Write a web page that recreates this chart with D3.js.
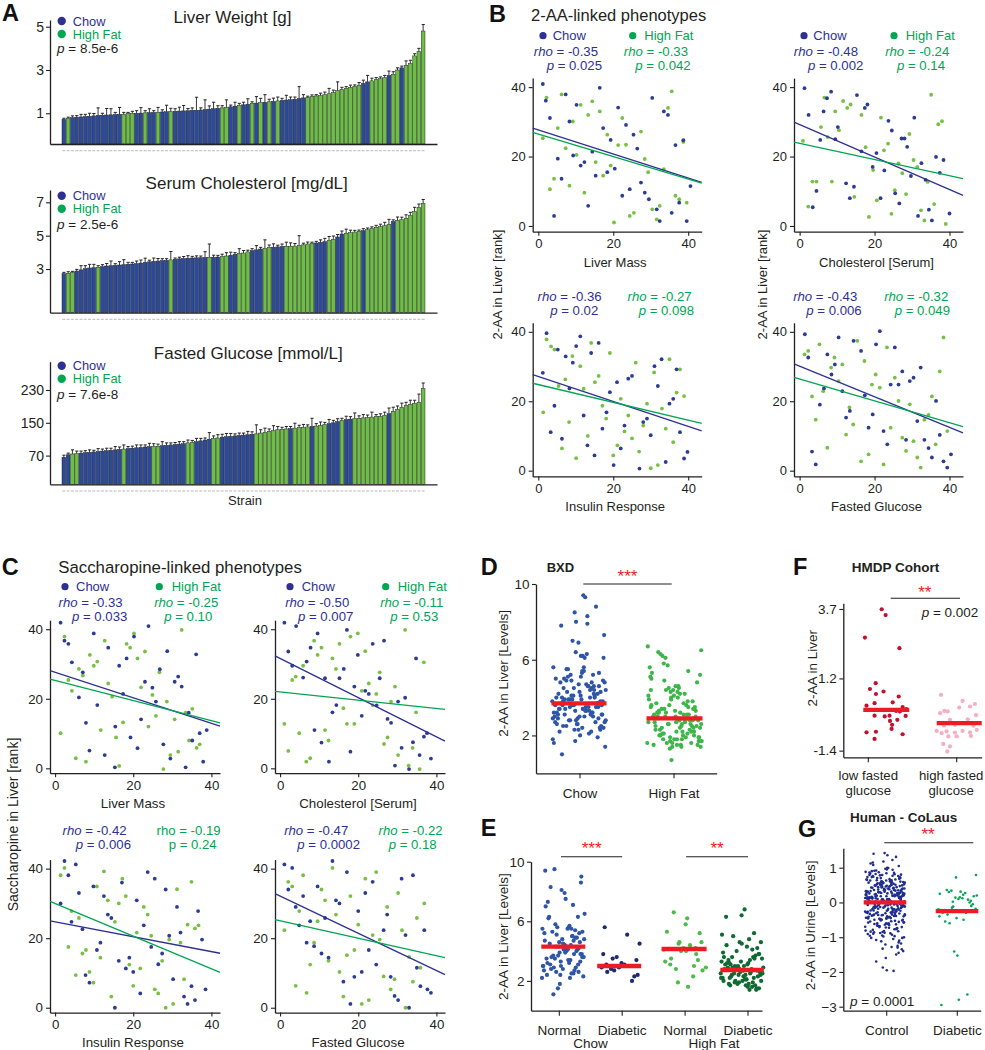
<!DOCTYPE html>
<html><head><meta charset="utf-8">
<script src="https://cdn.jsdelivr.net/npm/d3@7"></script>
<style>
body{margin:0;background:#fff;}
svg text{font-family:"Liberation Sans",Arial,Helvetica,sans-serif;}
</style></head><body>
<svg id="fig" width="985" height="1050"></svg>
<script>
// ================= DATA =================
// ---- Panel A: strain bar charts (85 strains each) ----
const liverWeight = [0.72,0.76,0.80,0.82,0.83,0.85,0.86,0.88,0.90,0.91,0.92,0.93,0.94,0.95,0.96,0.98,0.99,1.00,1.01,1.02,
1.03,1.04,1.05,1.06,1.07,1.08,1.09,1.10,1.11,1.12,1.13,1.14,1.15,1.17,1.19,1.21,1.23,1.25,1.27,1.30,
1.33,1.36,1.39,1.42,1.45,1.47,1.49,1.51,1.53,1.55,1.57,1.59,1.61,1.63,1.65,1.68,1.71,1.74,1.77,1.80,
1.83,1.86,1.90,1.95,2.05,2.10,2.15,2.20,2.25,2.30,2.38,2.45,2.50,2.55,2.60,2.65,2.75,2.80,3.00,3.10,
3.20,3.30,3.65,3.85,4.80];
const liverErr = [0.05,0.06,0.08,0.07,0.12,0.10,0.14,0.11,0.35,0.09,0.30,0.28,0.10,0.32,0.08,0.06,0.10,0.12,0.25,0.10,
0.18,0.08,0.22,0.10,0.30,0.15,0.12,0.18,0.25,0.10,0.12,0.60,0.10,0.45,0.15,0.30,0.12,0.10,0.35,0.08,
0.18,0.10,0.12,0.25,0.08,0.30,0.20,0.35,0.12,0.15,0.18,0.10,0.22,0.12,0.10,0.55,0.15,0.05,0.08,0.06,
0.10,0.12,0.25,0.12,0.40,0.10,0.08,0.10,0.06,0.12,0.15,0.30,0.12,0.10,0.08,0.10,0.20,0.12,0.10,0.08,
0.22,0.15,0.10,0.15,0.30];
const liverDiet = ["CHCCCCCCCCCCCCHHHCCH","CCHCCH","CCCCCCCCCCC","HHCCHCCHCHCHCH","CCC","CCC","HHHHHHHHHHHHH","CC","HHHH","C","HH","C","HHHHH"].join("");

const cholesterol = [2.72,2.74,2.80,2.88,2.95,3.02,3.06,3.08,3.10,3.14,3.18,3.20,3.22,3.24,3.26,3.28,3.30,3.33,3.36,3.40,
3.43,3.46,3.48,3.50,3.52,3.55,3.58,3.61,3.63,3.65,3.66,3.67,3.68,3.69,3.70,3.71,3.72,3.74,3.78,3.83,
3.88,3.92,3.96,4.03,4.10,4.15,4.20,4.25,4.29,4.31,4.33,4.35,4.36,4.37,4.38,4.40,4.45,4.50,4.53,4.56,
4.60,4.64,4.70,4.78,4.92,5.10,5.14,5.18,5.22,5.26,5.30,5.36,5.45,5.50,5.54,5.60,5.68,5.85,5.92,5.96,
6.05,6.20,6.45,6.70,6.92];
const cholErr = [0.08,0.10,0.06,0.10,0.25,0.18,0.22,0.20,0.10,0.12,0.15,0.28,0.10,0.20,0.30,0.12,0.10,0.15,0.18,0.25,
0.10,0.20,0.15,0.12,0.10,0.50,0.08,0.10,0.12,0.15,0.10,0.12,0.10,0.35,0.80,0.12,0.10,0.15,0.20,0.18,
0.10,0.30,0.15,0.10,0.12,0.25,0.10,0.50,0.15,0.20,0.10,0.15,0.25,0.20,0.15,0.60,0.10,0.12,0.08,0.10,
0.15,0.20,0.25,0.20,0.15,0.18,0.25,0.15,0.10,0.08,0.12,0.10,0.08,0.12,0.15,0.20,0.30,0.10,0.20,0.15,
0.20,0.20,0.25,0.20,0.25];
const cholDiet = ["C","HH","CCCCC","H","CCCCCCCCCCCCCCCC","H","CCCCCCCC","H","CC","HH","CC","HHH","CCC","HH","CCC","HHHHHHH","CCC","HH","CC","HHHH","C","HHHHHH","C","HHHHHHH"].join("");

const glucose = [66,72,74,75,76,77,78,79,80,81,82,83,84,85,86,87,88,89,90,91,
92,93,93,94,95,96,97,98,99,101,102,104,106,108,110,112,113,115,116,117,
118,119,120,121,122,123,125,127,129,131,133,134,135,136,137,138,139,140,141,142,
144,146,148,150,153,156,158,159,160,161,162,163,164,165,166,168,172,178,183,188,
192,195,197,200,233];
const glucErr = [5,4,10,6,5,5,6,4,7,5,6,5,8,6,10,5,5,7,6,5,8,6,5,10,6,5,5,6,5,7,
5,8,6,5,16,6,8,7,8,7,5,6,5,8,6,22,8,10,6,12,8,5,6,5,12,6,7,5,20,6,
8,5,10,6,7,5,8,6,14,6,8,6,12,5,6,8,14,10,8,10,8,10,8,20,14];
const glucDiet = ["CC","HH","CCCCCCCCCC","H","CCCCCC","HH","CCCCCC","HH","CCCC","HH","CCCCCCCC","HHHHHHHH","C","HHHH","C","HHH","CCC","H","CC","HHHHHHHH","C","HHHHHHHH"].join("");

const barTitles = ["Liver Weight [g]","Serum Cholesterol [mg/dL]","Fasted Glucose [mmol/L]"];
const barP = ["8.5e-6","2.5e-6","7.6e-8"];
const barTicks = [[1,3,5],[3,5,7],[70,150,230]];

// ---- Panel B: 2-AA-linked phenotypes (rank vs rank) ----
const bLiverChow = [[1.2,40.9],[2.0,36.1],[3.1,31.1],[4.2,2.9],[5.2,19.4],[6.2,13.6],[7.3,37.9],[8.3,30.1],[9.3,20.3],[10.2,34.9],[11.3,17.4],[12.3,18.4],[13.3,5.8],[14.4,21.4],[15.3,14.5],[16.4,39.8],[17.3,28.2],[18.4,15.5],[19.3,24.8],[20.4,16.5],[21.3,34.1],[22.4,8.7],[23.4,29.1],[24.4,10.6],[25.4,26.3],[26.4,22.3],[27.4,12.5],[28.4,9.6],[29.5,7.7],[30.4,36.9],[31.6,4.8],[32.4,1.4],[33.5,33.0],[34.6,32.0],[35.6,3.8],[36.6,23.3],[37.6,6.7],[38.7,24.7],[39.6,1.4],[40.6,11.5]];
const bLiverHF = [[1.2,25.3],[2.2,37.0],[3.1,10.6],[4.2,13.6],[5.2,28.2],[6.2,37.9],[7.3,22.4],[8.3,11.6],[9.2,30.1],[10.2,20.5],[11.3,34.9],[12.3,9.6],[13.3,32.0],[14.4,35.9],[15.3,18.4],[16.4,33.0],[17.3,14.5],[18.4,26.3],[19.3,17.4],[20.2,1.0],[21.3,23.3],[22.4,31.1],[23.4,23.4],[24.4,2.9],[25.5,3.8],[27.4,27.2],[28.4,19.3],[29.3,15.5],[30.4,4.8],[31.6,1.9],[32.4,5.8],[33.5,16.4],[34.6,34.0],[35.6,38.8],[36.6,8.7],[37.6,7.7],[38.7,24.2],[39.6,6.7]];
const bCholChow = [[1.3,39.7],[2.4,32.0],[3.5,5.4],[4.5,10.1],[5.5,24.8],[6.4,33.0],[7.3,36.8],[8.4,38.7],[9.5,25.0],[10.2,28.5],[12.4,12.3],[13.4,8.0],[14.5,11.3],[15.3,37.7],[16.5,21.5],[17.4,34.0],[18.1,35.0],[19.5,17.0],[20.5,21.0],[21.6,8.0],[22.6,16.0],[23.7,30.3],[24.6,27.5],[25.5,9.4],[26.6,6.5],[27.2,25.2],[28.0,25.2],[28.7,22.8],[29.7,14.4],[30.6,31.2],[31.6,2.9],[32.5,18.1],[33.6,13.3],[34.5,4.7],[35.3,1.6],[36.4,19.9],[37.4,15.3],[38.4,19.0],[40.0,3.6]];
const bCholHF = [[0.9,24.5],[2.3,5.6],[3.4,12.8],[4.5,12.8],[5.7,28.5],[6.6,37.0],[7.5,25.6],[8.6,12.8],[9.5,33.0],[10.5,27.6],[11.6,36.0],[12.7,34.0],[13.6,35.0],[14.6,8.4],[16.5,32.0],[17.6,22.7],[18.5,2.6],[19.6,16.1],[20.6,7.4],[21.7,31.2],[22.5,21.8],[23.6,23.7],[24.5,3.5],[25.4,10.3],[26.4,18.0],[27.4,15.2],[28.4,9.2],[29.3,26.5],[30.4,19.0],[31.4,17.0],[32.4,4.5],[33.3,1.6],[34.2,12.7],[35.1,37.8],[35.9,6.3],[37.0,29.3],[38.0,30.2],[39.0,0.6]];
const bInsChow = [[1.2,28.2],[2.2,39.6],[3.3,11.1],[4.3,18.7],[5.2,34.9],[6.3,9.2],[7.3,32.9],[8.3,23.7],[9.2,31.1],[10.1,35.9],[11.2,38.7],[12.1,15.9],[13.1,7.3],[14.1,33.9],[15.0,4.4],[16.1,36.8],[17.1,12.1],[18.2,16.8],[19.1,22.6],[20.1,1.6],[21.0,25.5],[22.0,6.4],[23.0,13.0],[24.0,26.5],[25.0,27.3],[27.0,0.6],[28.0,14.0],[29.0,15.0],[30.0,10.2],[31.0,30.1],[31.9,24.4],[32.9,32.1],[34.0,2.5],[35.0,19.3],[36.0,20.7],[36.9,29.2],[37.8,11.1],[38.9,3.5],[39.8,5.4]];
const bInsHF = [[1.3,16.8],[2.2,37.8],[3.4,35.8],[4.3,34.9],[5.4,24.4],[6.3,6.4],[7.2,26.3],[8.2,14.0],[9.1,33.0],[10.1,3.6],[11.2,30.1],[12.1,23.6],[13.2,10.0],[14.1,36.8],[15.1,25.5],[16.1,27.3],[17.1,18.7],[18.1,15.0],[19.1,33.9],[20.0,4.4],[21.1,7.3],[22.0,20.7],[23.0,11.3],[24.0,15.9],[25.0,9.3],[26.0,31.1],[26.9,5.5],[28.0,13.0],[29.0,19.3],[30.0,0.7],[30.9,28.3],[31.9,1.6],[33.0,17.9],[34.0,12.1],[35.0,32.1],[36.0,8.2],[36.9,22.5],[37.8,29.2],[38.9,21.5]];
const bGluChow = [[1.4,39.3],[2.3,32.6],[3.3,5.5],[4.3,1.8],[5.4,19.0],[6.5,23.7],[7.4,33.5],[8.5,27.7],[9.4,30.6],[10.4,38.4],[11.4,22.9],[12.4,15.3],[13.4,17.2],[14.4,37.4],[16.4,34.5],[17.4,21.7],[18.4,12.4],[19.5,16.2],[20.4,36.4],[21.4,40.2],[22.4,11.4],[23.4,7.6],[24.3,24.8],[25.4,35.5],[26.4,24.8],[27.4,28.6],[28.4,8.9],[29.4,25.8],[30.4,26.8],[31.4,14.3],[32.3,29.7],[33.3,8.9],[34.4,6.5],[35.3,3.8],[36.4,20.1],[37.4,10.3],[38.4,2.7],[39.4,0.9],[40.4,4.7]];
const bGluHF = [[1.3,33.5],[2.3,34.5],[3.3,21.4],[4.3,14.7],[5.3,36.4],[6.3,22.9],[7.4,6.6],[8.4,29.7],[9.3,32.6],[10.4,25.8],[11.4,30.6],[12.4,10.4],[13.3,18.2],[14.3,13.3],[15.4,37.4],[16.4,2.7],[17.3,31.6],[18.4,4.7],[19.3,24.8],[20.3,27.7],[21.4,23.9],[22.4,1.8],[23.3,35.5],[24.3,12.4],[25.4,26.8],[26.4,20.1],[27.4,9.5],[28.4,5.7],[29.4,19.1],[30.4,8.5],[31.4,3.8],[32.3,0.9],[33.3,14.7],[34.4,16.1],[35.3,21.4],[36.3,7.6],[37.4,28.6],[38.4,38.4],[39.4,11.4]];
const bXLabels = ["Liver Mass","Cholesterol [Serum]","Insulin Response","Fasted Glucose"];
const bFitChow = [[27.7,-0.348],[29.2,-0.467],[27.1,-0.359],[30.1,-0.44]];   // [intercept, slope]
const bFitHF = [[26.5,-0.324],[23.8,-0.233],[24.8,-0.257],[26.4,-0.314]];
const bRhoChow = ["-0.35","-0.48","-0.36","-0.43"], bPChow = ["0.025","0.002","0.02","0.006"];
const bRhoHF = ["-0.33","-0.24","-0.27","-0.32"], bPHF = ["0.042","0.14","0.098","0.049"];

// ---- Panel C: Saccharopine-linked phenotypes ----
const cLiverChow = [[1.4,41.9],[2.4,36.7],[3.4,35.8],[4.3,30.5],[6.1,20.4],[7.1,27.6],[7.9,13.1],[8.8,5.1],[9.9,38.8],[10.8,18.2],[12.7,3.8],[13.6,34.7],[15.3,0.3],[15.4,12.0],[16.4,29.5],[17.4,21.4],[18.3,31.6],[19.3,8.9],[20.2,37.9],[21.1,5.8],[22.0,14.1],[23.0,24.9],[23.9,40.9],[24.9,23.2],[25.8,19.2],[26.8,28.5],[27.7,6.9],[28.7,33.7],[29.5,2.8],[30.6,24.9],[31.5,26.4],[32.4,23.5],[33.4,0.3],[34.2,16.0],[35.1,8.0],[36.1,32.8],[37.0,10.1],[37.9,1.9],[38.8,11.0]];
const cLiverHF = [[1.4,10.1],[2.4,37.9],[3.4,25.4],[4.3,22.3],[5.3,2.9],[6.1,28.6],[7.1,26.7],[7.9,1.9],[8.9,32.6],[9.9,29.5],[10.8,30.7],[11.7,11.0],[12.7,36.7],[13.6,24.4],[14.6,20.6],[15.6,8.9],[16.4,0.7],[17.4,13.2],[18.3,35.8],[19.2,34.7],[20.2,38.8],[21.1,31.6],[22.0,23.3],[23.0,33.6],[23.9,12.0],[24.9,21.1],[25.8,15.1],[26.7,27.6],[27.7,-0.2],[28.6,19.2],[29.5,3.8],[30.6,14.1],[31.5,4.8],[32.4,39.8],[33.4,16.0],[34.3,8.0],[35.1,17.1],[36.2,5.9],[37.0,6.9]];
const cCholChow = [[1.1,41.9],[2.1,33.6],[3.1,29.5],[4.1,40.9],[5.9,26.1],[6.8,30.7],[7.8,34.7],[8.8,11.0],[9.6,38.8],[10.6,7.4],[11.5,25.9],[12.5,1.9],[13.4,16.1],[14.4,18.2],[15.2,25.9],[16.3,28.6],[17.1,39.8],[18.0,4.8],[19.0,23.5],[19.9,32.6],[20.9,15.1],[21.8,22.3],[22.7,21.4],[23.7,35.8],[24.7,18.1],[25.5,25.9],[26.6,36.7],[27.5,14.2],[28.4,13.1],[29.4,0.8],[30.2,19.2],[31.1,5.9],[32.0,20.3],[33.0,-0.2],[34.0,7.5],[34.8,31.6],[35.7,3.8],[36.8,9.1],[37.6,10.1],[38.6,2.8]];
const cCholHF = [[1.1,12.8],[2.1,5.0],[3.1,25.4],[4.0,26.4],[4.9,10.1],[5.9,29.5],[6.7,1.9],[7.7,2.9],[8.7,36.7],[9.6,32.6],[10.6,34.7],[11.5,11.0],[12.4,8.0],[13.4,31.6],[14.3,28.6],[15.2,35.8],[16.2,17.3],[17.1,12.8],[18.0,37.9],[19.0,12.8],[19.9,38.8],[20.9,22.3],[21.8,33.7],[22.7,24.4],[23.7,18.2],[24.6,21.4],[25.5,27.6],[26.6,7.0],[27.5,8.9],[28.4,19.2],[29.4,23.5],[30.2,3.8],[32.0,39.8],[32.9,0.8],[33.9,5.9],[34.8,16.1],[35.7,-0.2],[36.8,30.5]];
const cInsChow = [[1.4,30.0],[2.4,42.2],[3.4,38.1],[4.2,24.7],[5.3,41.2],[6.1,33.0],[7.0,22.6],[7.8,9.4],[8.8,7.2],[9.8,34.9],[10.7,16.6],[11.6,18.7],[12.5,32.1],[13.5,26.8],[14.4,25.8],[15.3,0.0],[16.3,13.5],[17.1,36.0],[18.1,11.3],[19.0,14.4],[20.0,10.3],[20.9,30.9],[21.8,4.1],[22.7,23.7],[23.7,39.0],[24.6,17.5],[25.5,37.1],[26.4,12.5],[27.4,15.6],[28.3,34.0],[29.2,20.7],[30.2,8.2],[31.2,29.0],[32.1,21.6],[33.0,3.2],[33.9,1.1],[34.9,6.2],[35.8,2.2],[36.6,27.8],[37.6,19.6],[38.5,5.3]];
const cInsHF = [[1.4,38.1],[2.4,40.2],[3.4,17.5],[4.2,27.8],[5.3,9.4],[6.1,25.8],[7.0,15.6],[7.9,16.6],[8.8,10.3],[9.8,7.2],[10.7,34.9],[11.6,14.4],[12.5,39.2],[13.5,30.9],[14.4,3.2],[15.3,24.7],[16.3,30.0],[17.2,37.1],[18.1,32.1],[19.0,12.4],[20.0,6.3],[20.9,21.6],[21.8,11.3],[22.7,29.0],[23.7,26.8],[24.6,20.7],[25.5,5.3],[26.4,4.1],[27.4,13.5],[28.3,0.0],[29.2,19.6],[30.2,1.1],[31.2,34.1],[32.1,18.7],[33.0,8.2],[33.9,23.9],[34.9,36.2],[35.8,22.8],[36.7,23.7]];
const cGluChow = [[1.1,41.2],[2.1,34.0],[3.1,40.2],[4.0,29.0],[4.9,23.7],[5.9,32.1],[6.8,18.7],[7.7,24.9],[8.7,17.7],[9.6,34.9],[10.6,15.6],[11.5,25.8],[12.4,14.4],[13.4,42.2],[14.3,30.9],[15.2,30.0],[16.2,7.5],[17.1,39.0],[18.0,1.1],[19.0,8.9],[20.0,27.8],[20.9,10.3],[21.8,33.0],[22.7,16.6],[23.7,36.2],[24.6,12.4],[26.5,22.3],[27.4,26.8],[28.3,8.9],[29.3,3.4],[30.2,2.2],[31.1,37.1],[32.1,20.9],[33.0,0.0],[34.0,38.1],[35.0,11.5],[35.9,6.2],[36.9,22.3],[37.7,5.3],[38.6,4.3]];
const cGluHF = [[1.1,22.3],[2.1,36.2],[3.1,34.9],[4.0,6.3],[4.9,27.8],[5.9,38.1],[6.8,4.3],[7.7,12.4],[8.7,18.7],[9.6,24.9],[10.6,34.0],[11.5,30.9],[12.4,13.5],[13.4,40.2],[14.3,26.8],[15.2,10.3],[16.2,3.2],[17.1,15.1],[18.0,32.1],[19.0,16.6],[20.0,23.9],[20.9,1.1],[21.8,37.1],[22.7,2.2],[23.7,20.9],[24.6,39.0],[25.5,19.6],[26.5,9.0],[27.4,29.0],[28.3,5.3],[29.3,8.2],[30.2,33.0],[31.2,22.3],[32.1,0.0],[33.0,14.6],[34.0,7.5],[35.0,25.8],[35.9,11.5],[36.9,30.0]];
const cXLabels = ["Liver Mass","Cholesterol [Serum]","Insulin Response","Fasted Glucose"];
const cFitChow = [[27.6,-0.367],[31.6,-0.563],[24.7,-0.214],[32.1,-0.535]];
const cFitHF = [[25.3,-0.29],[22.0,-0.119],[30.0,-0.47],[25.0,-0.251]];
const cRhoChow = ["-0.33","-0.50","-0.42","-0.47"], cPChow = ["0.033","0.007","0.006","0.0002"];
const cRhoHF = ["-0.25","-0.11","-0.19","-0.22"], cPHF = ["0.10","0.53","0.24","0.18"];

// ---- shared horizontal jitter (fraction of half-width) for strip plots ----
const J = [-0.82,0.35,-0.11,0.74,-0.53,0.12,0.91,-0.34,0.58,-0.97,0.23,-0.66,0.47,-0.05,0.86,-0.41,0.02,0.69,-0.88,0.31,
-0.19,0.95,-0.72,0.14,0.52,-0.28,0.79,-0.59,0.07,-0.93,0.41,-0.14,0.63,-0.47,0.99,-0.25,0.18,-0.78,0.55,-0.02,
0.84,-0.63,0.27,-0.37,0.71,-0.86,0.09,0.45,-0.21,0.93,-0.51,0.33,-0.08,0.66,-0.95,0.2,-0.44,0.77,-0.16,0.5,
-0.69,0.04,0.88,-0.31,0.38,-0.84,0.61,-0.12,0.25,-0.57,0.97,-0.39,0.11,0.72,-0.76,0.43,-0.24,0.82,-0.01,-0.61,
0.29,-0.9,0.56,-0.17,0.68,-0.46,0.16,-0.74,0.89,-0.33,0.06,0.48,-0.55,0.37,-0.99,0.21,0.8];

// ---- Panel D: BXD 2-AA levels ----
const dCats = ["Chow","High Fat"];
const dChow = [3.2,4.6,2.8,5.3,3.9,2.4,6.1,3.5,4.1,2.9,9.3,3.7,4.8,2.6,3.1,5.5,4.3,1.9,3.6,7.9,
4.5,2.7,3.4,6.2,3.0,4.9,2.3,3.8,5.1,1.6,4.0,3.3,8.8,2.5,4.4,3.6,5.4,2.9,4.2,6.9,
3.1,1.0,4.7,2.8,3.5,5.0,3.9,2.2,4.1,7.3,3.4,4.6,2.6,3.7,5.6,3.0,4.3,2.4,8.5,3.2,
4.8,2.0,3.8,5.2,3.3,4.0,2.7,6.4,3.5,4.5,1.4,3.9,5.3,2.9,4.2,3.1,7.0,2.5,4.7,3.6,
6.3,3.0,4.4,2.3,3.7,5.5,9.4,3.4,4.9,2.8,4.1,3.2,5.0,2.1,3.8,6.1,4.3,2.6,3.5,8.0,
4.6,3.1,5.4,2.4,3.9,4.0,1.8,3.3,7.8,4.5,2.9,3.7,5.1,3.0,4.2,2.7,8.3,3.6,4.8,2.2,
3.4,5.2,4.1,3.8,2.5,6.2,3.2,4.4,1.7,3.5,4.9,2.8,3.9,5.6,3.1,4.6,2.3,3.6,4.0,3.3];
const dHF = [2.9,1.8,3.4,2.2,4.4,1.5,3.1,2.6,5.2,2.0,3.7,1.4,2.8,4.1,2.4,6.2,3.0,1.7,3.5,2.3,
4.6,1.9,3.2,2.7,5.0,1.6,3.9,2.5,3.3,6.5,2.1,4.3,2.9,1.5,3.6,2.6,4.8,1.8,3.0,2.2,
5.6,2.8,1.3,3.4,2.4,4.5,3.1,1.9,6.1,2.7,3.8,2.0,4.2,1.6,3.2,2.5,5.3,2.9,0.7,3.5,
2.3,4.0,1.7,3.0,2.6,6.7,1.5,3.7,2.1,4.4,2.8,1.8,3.3,2.4,5.1,2.0,3.6,1.4,2.7,4.6,
3.1,1.6,2.9,6.4,2.2,3.9,1.9,4.3,2.5,3.4,1.7,5.7,2.8,3.0,2.3,4.1,1.5,3.2,2.6,4.9,
2.0,3.5,1.8,2.9,4.5,2.4,6.3,3.1,1.6,3.8,2.7,4.2,2.1,3.3,1.9,5.4,2.5,3.0,1.7,4.4,
2.8,3.6,2.2,4.0,1.4,3.2,2.6,5.8,2.9,3.4];
const dCenters = [3.69,2.9];

// ---- Panel E: normal vs diabetic ----
const eCats = ["Normal","Diabetic","Normal","Diabetic"];
const eChowNormal = [4.3,2.9,5.5,3.4,6.3,2.5,4.8,3.8,9.5,4.1,3.1,5.2,2.2,4.6,3.6,7.3,4.0,2.7,5.6,3.3,
8.3,4.4,3.0,5.0,2.4,4.9,3.7,6.5,1.5,4.2,3.5,5.4,2.8,9.0,4.5,3.2,5.8,2.6,4.7,3.9,
7.1,4.3,2.3,5.3,3.4,8.1,4.1,3.0,5.5,2.9,4.6,1.8,3.8,6.2,4.4,3.6,5.1,2.5,9.4,4.0,
3.3,5.6,2.8,4.8,3.5,7.5,4.2,2.4,5.0,3.7,8.6,4.5,3.1,5.7,2.7,4.9,3.9,6.3,1.1,4.3,
3.2,5.3,2.6,7.9,4.7,3.6,5.5,2.2,4.1,3.8,7.0,4.4,3.0,5.2];
const eChowDiab = [5.6,3.0,2.4,3.5,5.1,2.9,2.0,3.6,3.1,2.6,4.5,2.8,3.2,2.3,3.8,3.0,2.7,3.4,2.9,3.1];
const eHFNormal = [6.2,4.2,1.9,4.6,3.5,5.8,4.1,2.3,4.0,3.4,6.6,2.9,4.5,1.6,5.3,3.8,4.2,2.7,3.1,4.4,2.8,5.2,3.3,4.0,3.0,4.6];
const eHFDiab = [2.6,4.5,1.8,3.2,2.2,5.2,2.9,1.5,3.6,2.4,6.3,2.0,3.0,2.7,4.1,1.7,3.4,2.5,2.1,3.8,
2.8,1.4,4.6,2.3,3.1,6.8,2.6,1.9,3.5,2.2,4.3,2.9,1.6,3.3,2.4,5.0,2.0,2.7,3.9,1.8,
3.0,2.5,4.4,2.1,3.6,2.8,1.5,3.2,2.3,5.1,2.6,1.9,3.7,2.4,2.9,4.0,1.7,3.1,2.2,6.4,
2.7,3.4,1.6,2.5,4.2,2.0,3.0,2.8,1.8,3.5,2.3,4.8,2.6,1.4,3.3,2.1,2.9,3.8,2.4,1.9,
3.2,2.7,4.6,2.0,2.5,3.6,1.7,2.8,3.1,2.2];
const eCenters = [4.3,3.0,4.14,2.73];

// ---- Panel F: HMDP cohort ----
const fCats = ["low fasted\nglucose","high fasted\nglucose"];
const fLow = [3.69,3.48,2.67,2.29,1.03,0.82,0.73,0.64,0.55,0.31,0.22,0.34,0.17,0.10,-0.14,-0.17,-0.14,0.03,-0.33,0.01,-0.15,-0.29,-0.47,-0.74,-0.72,-0.62,-0.81,-0.98];
const fLowJit = [-0.20,-0.03,-0.93,0.57,-0.46,-0.71,-0.12,-0.45,0.54,-0.51,-0.86,0.28,0.71,0.87,-0.51,-0.07,0.14,0.43,0.16,0.59,0.84,0.48,0.25,-0.86,-0.45,0.23,0.71,-0.51];
const fHigh = [0.61,-0.05,0.03,0.01,0.15,0.39,0.28,-0.12,0.19,-0.27,-0.29,-0.50,-0.47,-0.41,-0.50,-0.69,-0.77,-0.71,-0.75,-0.69,-0.74,-0.65,-0.89,-0.89,-0.87,-1.16,-1.43,-1.25];
const fHighJit = [-0.81,-0.85,-0.66,-0.51,0.0,0.15,0.70,0.75,0.48,0.38,-0.41,-0.68,-0.19,0.26,0.63,-1.0,-0.78,-0.56,-0.19,0.15,0.48,0.78,-0.48,-0.11,0.52,-0.71,-0.53,-0.41];
const fCenters = [0.07,-0.41];

// ---- Panel G: Human CoLaus ----
const gCats = ["Control","Diabetic"];
const gControl = [0.12,-0.35,0.58,-0.04,0.91,-0.62,0.27,-0.18,0.44,-0.81,0.06,0.73,-0.29,0.35,-0.52,0.19,-0.09,1.05,-0.44,0.31,-1.12,0.52,-0.23,0.08,0.66,-0.71,0.15,-0.37,0.84,-0.02,0.41,-0.95,0.23,-0.14,0.57,
-0.48,0.02,0.79,-0.26,0.37,-1.35,0.11,0.62,-0.67,0.28,-0.07,0.95,-0.39,0.18,-0.58,0.49,-0.15,1.18,-0.83,0.33,0.04,-0.31,0.71,-0.5,0.22,-1.02,0.46,-0.11,0.87,-0.21,0.14,-0.74,0.55,-0.03,1.4,
0.25,-0.6,0.09,0.68,-0.33,0.42,-0.88,0.17,-0.12,0.76,-0.45,0.3,-1.5,0.5,-0.2,0.03,0.99,-0.55,0.21,-0.08,0.63,-0.97,0.36,-0.27,0.13,-0.65,0.8,-0.41,0.26,-1.87,0.47,-0.16,0.07,0.59,-0.36,
-0.05,0.88,-0.42,0.16,-0.77,0.39,-0.13,0.64,-1.21,0.24,-0.3,0.53,0.01,-0.57,1.12,-0.22,0.34,-0.69,0.1,0.74,-0.47,0.2,-1.05,0.45,-0.1,0.82,-0.34,0.29,-0.61,0.05,1.31,-0.87,0.38,-0.19,0.6,
-0.28,0.13,-0.91,0.48,-0.06,0.7,-0.4,0.23,-1.28,0.56,-0.17,0.32,-0.73,0.92,-0.24,0.07,-0.53,0.43,-1.6,0.19,-0.01,0.77,-0.46,0.27,-0.85,0.61,-0.14,0.4,-0.66,1.0,-0.32,0.15,-1.97,0.51,-0.09,
0.35,-0.79,0.04,0.65,-0.25,0.46,-1.15,0.12,-0.43,0.83,-0.04,0.3,-0.6,0.18,-0.35,1.22,-0.7,0.38,-0.16,0.57,-0.93,0.09,0.72,-0.5,0.26,-1.4,0.44,-0.21,0.02,0.67,-0.38,0.21,-0.82,0.49,-0.12,
0.97,-0.56,0.14,-0.3,0.6,-1.0,0.33,-0.08,0.51,-0.68,0.06,1.08,-0.45,0.25,-0.19,0.79,-1.25,0.17,-0.37,0.55,-0.02,0.86,-0.63,0.31,-0.11,0.42,-0.89,0.1,0.69,-0.27,-1.95,0.36,-0.52,0.22,-0.07,
0.5,-0.15,0.76,-0.44,0.08,-1.08,0.28,0.61,-0.33,0.13,-0.72,0.4,-0.05,0.94,-0.58,0.2,-1.33,0.47,-0.23,0.03,0.7,-0.4,0.16,-0.96,0.54,-0.13,0.32,-0.64,1.15,-0.29,0.11,-0.77,0.43,-1.45,0.24,
-0.18,0.63,-0.5,0.29,-0.03,0.81,-0.86,0.19,-0.26,0.45,-1.18,0.07,0.58,-0.36,0.12,-0.62,1.36,-0.09,0.37,-0.75,0.22,-0.42,0.9,-0.2,0.05,-1.02,0.52,-0.31,0.16,0.73,-0.54,0.27,-0.1,-0.84,0.4,
0.0,-0.47,0.34,-0.9,0.18,0.66,-0.22,0.09,-1.3,0.48,-0.12,0.78,-0.61,0.26,-0.39,1.42,-0.71,0.14,-0.06,0.55,-1.1,0.31,-0.24,0.85,-0.49,0.2,-0.15,0.64,-0.98,0.35,-0.28,0.1,-1.7,0.6,-0.37];
const gDiab = [0.72,-0.25,0.3,-1.53,0.05,-0.4,0.22,-0.12,0.79,-0.3,0.15,-2.65,0.34,-0.05,-0.55,0.1,-0.2,0.27,-1.41,0.0,-0.35,0.2,-0.15,0.31,-2.95,0.08,-0.45,0.18,-0.22,0.12,-0.6,-0.1,0.25,-2.8,-0.3,0.02,-0.18,0.36,-0.5,0.14];
const gCenters = [0.0,-0.25];

// ================= STYLE =================
const FONT = '"Liberation Sans", Arial, Helvetica, sans-serif';
const INK = "#231f20";
const CHOW_TXT = "#2e3192", HF_TXT = "#00a651";
const BAR_C = "#2b4a9c", BAR_H = "#6cbe45";
const PT_C = "#2b3b96", PT_H = "#78c043";
const LINE_C = "#2e3192", LINE_H = "#00a651";
const RED = "#ed1c24";

const svg = d3.select("#fig");
svg.append("rect").attr("width",985).attr("height",1050).attr("fill","#fff");

function txt(g, x, y, s, o = {}) {
  const t = g.append("text").attr("x", x).attr("y", y).text(s)
    .attr("font-size", o.size || 13).attr("fill", o.fill || INK)
    .attr("text-anchor", o.anchor || "start").attr("font-family", FONT);
  if (o.weight) t.attr("font-weight", o.weight);
  if (o.italic) t.attr("font-style", "italic");
  return t;
}
function rot(g, cx, cy, s, size) {
  g.append("text").attr("transform", `translate(${cx + size * 0.36},${cy}) rotate(-90)`)
    .attr("text-anchor", "middle").attr("font-size", size).attr("fill", INK)
    .attr("font-family", FONT).text(s);
}
function stat(g, x, y, label, val, fill, upright) {
  const t = g.append("text").attr("x", x).attr("y", y).attr("font-size", 13.2)
    .attr("fill", fill).attr("text-anchor", "end").attr("font-family", FONT);
  t.append("tspan").attr("font-style", upright ? "normal" : "italic").text(label);
  t.append("tspan").text(" = " + val);
}
function styleAxis(sel, size) {
  sel.attr("font-family", FONT).attr("font-size", size);
  sel.select(".domain").attr("stroke", INK).attr("stroke-width", 1.3);
  sel.selectAll(".tick line").attr("stroke", INK).attr("stroke-width", 1.1);
  sel.selectAll(".tick text").attr("fill", INK);
}
function letter(x, y, s) {
  txt(svg, x, y, s, { size: 23.5, weight: "bold", fill: "#111" });
}

// ================= PANEL A =================
const barLayout = [
  { top: 20, base: 144, domain: [-0.42, 5.31], titleX: 232.5, titleY: 22.5, legY: 21, pY: 53 },
  { top: 190, base: 312.7, domain: [0.38, 7.74], titleX: 246.7, titleY: 189, legY: 195.7, pY: 228.5 },
  { top: 361.7, base: 484.3, domain: [0, 299], titleX: 248.3, titleY: 358.7, legY: 365.7, pY: 399.2 }
];
const barVals = [liverWeight, cholesterol, glucose];
const barErrs = [liverErr, cholErr, glucErr];
const barDiets = [liverDiet, cholDiet, glucDiet];

barLayout.forEach((L, k) => {
  const g = svg.append("g");
  const vals = barVals[k], errs = barErrs[k], diet = barDiets[k];
  const x = d3.scaleBand().domain(d3.range(vals.length)).range([62, 425]).paddingInner(0.13);
  const y = d3.scaleLinear().domain(L.domain).range([L.base, L.top]);
  const bw = x.bandwidth();
  g.selectAll("rect.bar").data(vals).join("rect").attr("class", "bar")
    .attr("x", (d, i) => x(i)).attr("width", bw)
    .attr("y", d => y(d)).attr("height", d => L.base - y(d))
    .attr("fill", (d, i) => diet[i] === "C" ? BAR_C : BAR_H)
    .attr("stroke", "#1b1b1b").attr("stroke-width", 0.45);
  g.selectAll("line.err").data(vals).join("line").attr("class", "err")
    .attr("x1", (d, i) => x(i) + bw / 2).attr("x2", (d, i) => x(i) + bw / 2)
    .attr("y1", d => y(d)).attr("y2", (d, i) => y(d + errs[i]))
    .attr("stroke", "#222").attr("stroke-width", 0.9);
  g.selectAll("line.cap").data(vals).join("line").attr("class", "cap")
    .attr("x1", (d, i) => x(i) + bw * 0.1).attr("x2", (d, i) => x(i) + bw * 0.95)
    .attr("y1", (d, i) => y(d + errs[i])).attr("y2", (d, i) => y(d + errs[i]))
    .attr("stroke", "#222").attr("stroke-width", 1);
  g.selectAll("rect.strain").data(vals).join("rect").attr("class", "strain")
    .attr("x", (d, i) => x(i) + bw * 0.1).attr("width", bw * 0.8)
    .attr("y", L.base + 6).attr("height", 1.3).attr("fill", "#c9c9c9");
  const ya = g.append("g").attr("transform", "translate(50,0)")
    .call(d3.axisLeft(y).tickValues(barTicks[k]).tickSize(4).tickPadding(2).tickSizeOuter(0).tickFormat(d3.format("d")));
  styleAxis(ya, 14);
  const xl = d3.scaleLinear().range([50, 437]);
  const xa = g.append("g").attr("transform", `translate(0,${L.base})`)
    .call(d3.axisBottom(xl).tickValues([]).tickSizeOuter(0));
  styleAxis(xa, 12);
  txt(g, L.titleX, L.titleY, barTitles[k], { size: 17, anchor: "middle" });
  g.append("circle").attr("cx", 61.7).attr("cy", L.legY).attr("r", 4.2).attr("fill", CHOW_TXT);
  txt(g, 72.7, L.legY + 4.6, "Chow", { size: 12.8, fill: CHOW_TXT });
  g.append("circle").attr("cx", 61.7).attr("cy", L.legY + 13).attr("r", 4.2).attr("fill", HF_TXT);
  txt(g, 72.7, L.legY + 17.6, "High Fat", { size: 12.8, fill: HF_TXT });
  const pt = g.append("text").attr("x", 57).attr("y", L.pY).attr("font-size", 13.5).attr("fill", INK).attr("font-family", FONT);
  pt.append("tspan").attr("font-style", "italic").text("p");
  pt.append("tspan").text(" = " + barP[k]);
});
txt(svg, 245, 504.5, "Strain", { size: 13, anchor: "middle" });
letter(2, 20.5, "A");

// ================= PANELS B & C (scatter) =================
function scatter(L, chow, hf, fitC, fitH, rhoC, pC, rhoH, pH, xlab, S) {
  const g = svg.append("g");
  const x = d3.scaleLinear().domain(S.xd).range([L.ax, L.ax + S.w]);
  const y = d3.scaleLinear().domain(S.yd).range([L.by, L.by - S.h]);
  const xa = g.append("g").attr("transform", `translate(0,${L.by})`)
    .call(d3.axisBottom(x).tickValues([0, 20, 40]).tickSize(4).tickPadding(3).tickSizeOuter(0));
  styleAxis(xa, S.fs);
  const ya = g.append("g").attr("transform", `translate(${L.ax},0)`)
    .call(d3.axisLeft(y).tickValues([0, 20, 40]).tickSize(4).tickPadding(3).tickSizeOuter(0));
  styleAxis(ya, S.fs);
  g.selectAll("circle.h").data(hf).join("circle").attr("class", "h")
    .attr("cx", d => x(d[0])).attr("cy", d => y(d[1])).attr("r", 1.9).attr("fill", PT_H);
  g.selectAll("circle.c").data(chow).join("circle").attr("class", "c")
    .attr("cx", d => x(d[0])).attr("cy", d => y(d[1])).attr("r", 1.9).attr("fill", PT_C);
  const line = d3.line().x(d => x(d[0])).y(d => y(d[1]));
  [[fitC, LINE_C], [fitH, LINE_H]].forEach(([f, col]) => {
    g.append("path").attr("d", line(S.xd.map(v => [v, f[0] + f[1] * v])))
      .attr("stroke", col).attr("stroke-width", 1.3).attr("fill", "none");
  });
  txt(g, L.ax + S.w / 2 - 2, L.by + S.xlabDy, xlab, { size: S.fs, anchor: "middle" });
  if (L.legend) {
    const ly = L.by + S.legDy;
    g.append("circle").attr("cx", L.ax + L.dotC).attr("cy", ly).attr("r", 3.6).attr("fill", CHOW_TXT);
    txt(g, L.ax + L.txtC, ly + 4.6, "Chow", { size: 13, fill: CHOW_TXT });
    g.append("circle").attr("cx", L.ax + L.dotH).attr("cy", ly).attr("r", 3.6).attr("fill", HF_TXT);
    txt(g, L.ax + L.txtH, ly + 4.6, "High Fat", { size: 13, fill: HF_TXT });
  }
  stat(g, L.ax + L.cRho, L.by + L.rhoDy, "rho", rhoC, CHOW_TXT, false);
  stat(g, L.ax + L.cP, L.by + L.pDy, "p", pC, CHOW_TXT, false);
  stat(g, L.ax + L.hRho, L.by + L.rhoDy, "rho", rhoH, HF_TXT, L.upright);
  stat(g, L.ax + L.hP, L.by + L.pDy, "p", pH, HF_TXT, L.upright);
}

const SB = { xd: [-1.5, 43.6], w: 169, yd: [-1.65, 42.6], h: 153.6, fs: 13, xlabDy: 35, legDy: -196 };
const bLayout = [
  { ax: 532.7, by: 231.7, legend: true, dotC: 10.3, txtC: 20, dotH: 100, txtH: 111.6, rhoDy: -175.4, pDy: -161.4, cRho: 65.3, cP: 69.3, hRho: 155.3, hP: 158 },
  { ax: 794, by: 231.7, legend: true, dotC: 10, txtC: 19.3, dotH: 100, txtH: 111.7, rhoDy: -175.4, pDy: -161.4, cRho: 64, cP: 69.3, hRho: 155.3, hP: 151 },
  { ax: 532.7, by: 476.4, legend: false, rhoDy: -175.4, pDy: -161.4, cRho: 69, cP: 65.6, hRho: 159, hP: 161.3 },
  { ax: 794, by: 476.4, legend: false, rhoDy: -175.4, pDy: -161.4, cRho: 63.3, cP: 67.7, hRho: 154.3, hP: 156 }
];
const bPts = [[bLiverChow, bLiverHF], [bCholChow, bCholHF], [bInsChow, bInsHF], [bGluChow, bGluHF]];
bLayout.forEach((L, i) => scatter(L, bPts[i][0], bPts[i][1], bFitChow[i], bFitHF[i], bRhoChow[i], bPChow[i], bRhoHF[i], bPHF[i], bXLabels[i], SB));
txt(svg, 531, 20.7, "2-AA-linked phenotypes", { size: 16.5 });
letter(489, 21.7, "B");
rot(svg, 497.5, 284.5, "2-AA in Liver [rank]", 13);
rot(svg, 762.5, 284.5, "2-AA in Liver [rank]", 13);

const SC = { xd: [-1.3, 42.2], w: 170, yd: [-1.4, 42.6], h: 153, fs: 13.3, xlabDy: 34.3, legDy: -186.5 };
const cLayout = [
  { ax: 50, by: 773.2, legend: true, dotC: 15, txtC: 26, dotH: 109.3, txtH: 121.7, rhoDy: -166.3, pDy: -151.9, cRho: 72.7, cP: 77.3, hRho: 168.3, hP: 162.3 },
  { ax: 275, by: 773.2, legend: true, dotC: 15, txtC: 26.7, dotH: 110.7, txtH: 122.7, rhoDy: -166.3, pDy: -151.9, cRho: 74.3, cP: 78.3, hRho: 168.3, hP: 163.3 },
  { ax: 50, by: 1012.6, legend: false, rhoDy: -177.3, pDy: -163.7, cRho: 76.7, cP: 81, hRho: 170.7, hP: 166.7, upright: true },
  { ax: 275, by: 1012.6, legend: false, rhoDy: -177.3, pDy: -163.7, cRho: 73.3, cP: 85, hRho: 167.7, hP: 161.7 }
];
const cPts = [[cLiverChow, cLiverHF], [cCholChow, cCholHF], [cInsChow, cInsHF], [cGluChow, cGluHF]];
cLayout.forEach((L, i) => scatter(L, cPts[i][0], cPts[i][1], cFitChow[i], cFitHF[i], cRhoChow[i], cPChow[i], cRhoHF[i], cPHF[i], cXLabels[i], SC));
txt(svg, 58.3, 572.7, "Saccharopine-linked phenotypes", { size: 16.8 });
letter(1.7, 575, "C");
rot(svg, 13.3, 824.5, "Saccharopine in Liver [rank]", 14);

// ================= STRIP PLOTS (D, E, F, G) =================
function strip(o) {
  const g = svg.append("g");
  const y = d3.scaleLinear().domain(o.yd).range([o.base, o.top]);
  const x = d3.scalePoint().domain(d3.range(o.labels.length)).range(o.xr);
  const ya = g.append("g").attr("transform", `translate(${o.ax},0)`)
    .call(d3.axisLeft(y).tickValues(o.ticks).tickFormat(o.fmt).tickSize(4).tickPadding(2.5).tickSizeOuter(0));
  styleAxis(ya, 13.5);
  const xl = d3.scaleLinear().range([o.ax, o.axEnd]);
  const xa = g.append("g").attr("transform", `translate(0,${o.base})`)
    .call(d3.axisBottom(xl).tickValues([]).tickSizeOuter(0));
  styleAxis(xa, 13.5);
  g.selectAll("line.ct").data(o.labels).join("line").attr("class", "ct")
    .attr("x1", (d, i) => x(i)).attr("x2", (d, i) => x(i))
    .attr("y1", o.base).attr("y2", o.base + 5).attr("stroke", INK).attr("stroke-width", 1.1);
  o.labels.forEach((lab, i) => {
    const lx = x(i) + (o.labShift ? o.labShift[i] : 0);
    lab.split("\n").forEach((line, j) => txt(g, lx, o.labY + j * 15, line, { size: o.labSize || 13.5, anchor: "middle" }));
  });
  o.groups.forEach((grp, gi) => {
    const cx = x(gi) + grp.shift;
    g.selectAll(null).data(grp.vals).join("circle")
      .attr("cx", (d, i) => cx + (grp.jit ? grp.jit[i] : J[(i + grp.jo) % J.length]) * grp.half)
      .attr("cy", d => y(d)).attr("r", o.r).attr("fill", grp.color);
  });
  o.groups.forEach((grp, gi) => {
    const cx = x(gi) + grp.shift;
    g.append("line").attr("x1", cx - grp.mh).attr("x2", cx + grp.mh)
      .attr("y1", y(o.centers[gi])).attr("y2", y(o.centers[gi]))
      .attr("stroke", RED).attr("stroke-width", 4.3);
  });
  (o.sig || []).forEach(s => {
    g.append("line").attr("x1", x(s.a) + s.da).attr("x2", x(s.b) + s.db)
      .attr("y1", s.y).attr("y2", s.y).attr("stroke", INK).attr("stroke-width", 1.1);
    txt(g, (x(s.a) + s.da + x(s.b) + s.db) / 2 + (s.tx || 0), s.ty, s.stars, { size: 17, fill: RED, anchor: "middle" });
  });
  return { g, x, y };
}

// D
strip({
  yd: [0, 10], base: 773.3, top: 584, ticks: [2, 6, 10], fmt: d3.format("d"),
  ax: 536, axEnd: 716.7, xr: [580, 674], labels: dCats, labY: 798, r: 2.1, centers: dCenters,
  groups: [
    { vals: dChow, color: "#2f56a6", shift: -1, half: 27, jo: 0, mh: 27.5 },
    { vals: dHF, color: "#3db649", shift: 0.5, half: 27.5, jo: 41, mh: 28 }
  ],
  sig: [{ a: 0, b: 1, da: 3.3, db: -2.3, y: 584, stars: "***", ty: 581.5 }]
});
txt(svg, 546.7, 572, "BXD", { size: 13, weight: "bold" });
letter(480.7, 575, "D");
rot(svg, 503.3, 673.3, "2-AA in Liver  [Levels]", 13.5);

// E
strip({
  yd: [0, 10], base: 1010.7, top: 861.7, ticks: [2, 6, 10], fmt: d3.format("d"),
  ax: 531, axEnd: 762, xr: [559.3, 748], labels: eCats, labY: 1034.5, r: 2.1, centers: eCenters,
  groups: [
    { vals: eChowNormal, color: "#2f56a6", shift: 4, half: 21.5, jo: 7, mh: 22 },
    { vals: eChowDiab, color: "#1b2a6e", shift: -3, half: 21, jo: 60, mh: 22 },
    { vals: eHFNormal, color: "#4cbb4a", shift: -1, half: 22, jo: 23, mh: 22.5 },
    { vals: eHFDiab, color: "#0f6a31", shift: -6, half: 21.5, jo: 77, mh: 21.7 }
  ],
  sig: [
    { a: 0, b: 1, da: 1.7, db: 0, y: 856.7, stars: "***", ty: 853.8 },
    { a: 2, b: 3, da: 1, db: 0, y: 856.7, stars: "**", ty: 853.8 }
  ]
});
txt(svg, 590.5, 1047.5, "Chow", { size: 13.5, anchor: "middle" });
txt(svg, 714, 1047.5, "High Fat", { size: 13.5, anchor: "middle" });
letter(480.7, 836, "E");
rot(svg, 503.3, 936.7, "2-AA in Liver [Levels]", 13.5);

// F
strip({
  yd: [-1.64, 3.905], base: 757.3, top: 603.3, ticks: [-1.4, 1.2, 3.7], fmt: d => String(d),
  ax: 843.3, axEnd: 981.7, xr: [868.3, 956.7], labels: fCats, labShift: [0, -5.5], labSize: 13.2, labY: 780, r: 2.1, centers: fCenters,
  groups: [
    { vals: fLow, jit: fLowJit, color: "#c3102e", shift: 18, half: 23, mh: 23 },
    { vals: fHigh, jit: fHighJit, color: "#f6aec0", shift: 2.5, half: 22.5, mh: 22.5 }
  ],
  sig: [{ a: 0, b: 1, da: 22.4, db: 3.3, y: 598.3, stars: "**", ty: 597.6, tx: -0.5 }]
});
txt(svg, 851.7, 572, "HMDP Cohort", { size: 13.5, weight: "bold" });
const fp = svg.append("text").attr("x", 921.7).attr("y", 616.5).attr("font-size", 13.5).attr("fill", INK).attr("font-family", FONT);
fp.append("tspan").attr("font-style", "italic").text("p");
fp.append("tspan").text(" = 0.002");
letter(793, 575, "F");
rot(svg, 811.7, 668.3, "2-AA in Liver", 13.5);

// G
strip({
  yd: [-3.115, 1.558], base: 1010.7, top: 848.3, ticks: [-3, -2, -1, 0, 1], fmt: d3.format("d"),
  ax: 843.3, axEnd: 980.7, xr: [886.7, 957.3], labels: gCats, labY: 1035, r: 1.3, centers: gCenters,
  groups: [
    { vals: gControl, color: "#1f2d8c", shift: -1.7, half: 20, jo: 0, mh: 21.3 },
    { vals: gDiab, color: "#00a651", shift: -0.3, half: 20, jo: 13, mh: 21.3 }
  ],
  sig: [{ a: 0, b: 1, da: -2.4, db: 16, y: 842.7, stars: "**", ty: 839.8, tx: -0.8 }]
});
txt(svg, 850, 821.5, "Human - CoLaus", { size: 13.5, weight: "bold" });
const gp = svg.append("text").attr("x", 850).attr("y", 1006).attr("font-size", 13.5).attr("fill", INK).attr("font-family", FONT);
gp.append("tspan").attr("font-style", "italic").text("p");
gp.append("tspan").text(" = 0.0001");
letter(798, 836.7, "G");
rot(svg, 810, 925.3, "2-AA in Urine [Levels]", 13.5);
</script>
</body></html>
